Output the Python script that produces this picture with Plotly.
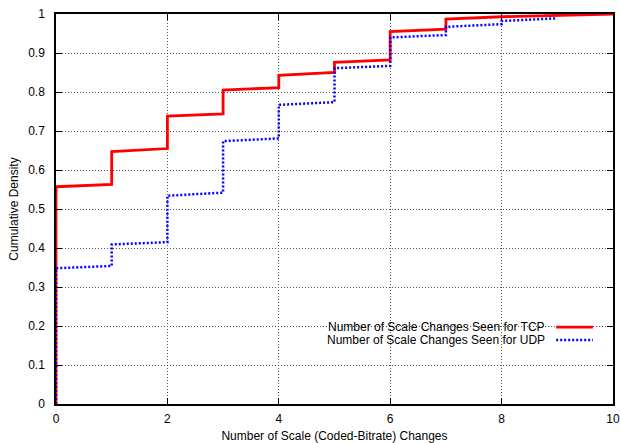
import plotly.graph_objects as go

# Empirical CDF sample points (x = number of scale changes, y = cumulative density)
tcp_x = [0, 0, 1, 1, 2, 2, 3, 3, 4, 4, 5, 5, 6, 6, 7, 7, 8, 9, 10]
tcp_y = [0, 0.557, 0.563, 0.647, 0.655, 0.738, 0.744, 0.805, 0.811, 0.843,
         0.850, 0.876, 0.882, 0.955, 0.961, 0.987, 0.993, 0.997, 1.0]

udp_x = [0, 0, 1, 1, 2, 2, 3, 3, 4, 4, 5, 5, 6, 6, 7, 7, 8, 8, 9]
udp_y = [0, 0.348, 0.354, 0.409, 0.415, 0.534, 0.542, 0.674, 0.681, 0.767,
         0.774, 0.861, 0.867, 0.940, 0.946, 0.967, 0.974, 0.982, 0.989]

tcp_name = "Number of Scale Changes Seen for TCP"
udp_name = "Number of Scale Changes Seen for UDP"

x_ticks = [0, 2, 4, 6, 8, 10]
y_ticks = [0, 0.1, 0.2, 0.3, 0.4, 0.5, 0.6, 0.7, 0.8, 0.9, 1]
y_tick_text = ["0", "0.1", "0.2", "0.3", "0.4", "0.5", "0.6", "0.7", "0.8", "0.9", "1"]

font = "Liberation Sans, Arial, sans-serif"
fsize = 12

fig = go.Figure()
fig.add_trace(go.Scatter(x=tcp_x, y=tcp_y, mode="lines", name=tcp_name,
                         line=dict(color="#ff0000", width=2.8), showlegend=False))
fig.add_trace(go.Scatter(x=udp_x, y=udp_y, mode="lines", name=udp_name,
                         line=dict(color="#0000ff", width=2.5, dash="2px,2px"), showlegend=False))

axis_common = dict(
    showgrid=True, gridcolor="#555555", griddash="1px,2px", gridwidth=1,
    showline=True, linecolor="black", linewidth=1.5, mirror="allticks",
    ticks="inside", ticklen=6, tickcolor="black", tickwidth=1,
    zeroline=False, automargin=False,
    tickfont=dict(family=font, size=fsize, color="black"),
)

fig.update_xaxes(range=[0, 10], tickvals=x_ticks, ticktext=[str(v) for v in x_ticks],
                 ticklabelstandoff=3,
                 title=dict(text="Number of Scale (Coded-Bitrate) Changes",
                            font=dict(family=font, size=fsize, color="black"), standoff=7),
                 **axis_common)
fig.update_yaxes(range=[0, 1], tickvals=y_ticks, ticktext=y_tick_text,
                 ticklabelstandoff=7,
                 title=dict(text="Cumulative Density",
                            font=dict(family=font, size=fsize, color="black"), standoff=7),
                 **axis_common)

# Legend (gnuplot style: right-aligned text, sample line to the right)
shapes = [
    dict(type="rect", xref="paper", yref="paper", x0=0.411, x1=0.973, y0=0.145, y1=0.215,
         fillcolor="white", line=dict(width=0), layer="between"),
    dict(type="line", xref="paper", yref="paper", x0=0.898, x1=0.964, y0=0.197, y1=0.197,
         line=dict(color="#ff0000", width=2.8)),
    dict(type="line", xref="paper", yref="paper", x0=0.898, x1=0.964, y0=0.164, y1=0.164,
         line=dict(color="#0000ff", width=2.5, dash="2px,2px")),
]
annotations = [
    dict(text=tcp_name, xref="paper", yref="paper", x=0.882, y=0.197, xanchor="right",
         yanchor="middle", showarrow=False, font=dict(family=font, size=fsize, color="black")),
    dict(text=udp_name, xref="paper", yref="paper", x=0.882, y=0.164, xanchor="right",
         yanchor="middle", showarrow=False, font=dict(family=font, size=fsize, color="black")),
]

fig.update_layout(
    width=620, height=443,
    margin=dict(l=56, r=7, t=14, b=39),
    paper_bgcolor="white", plot_bgcolor="white",
    shapes=shapes, annotations=annotations,
    showlegend=False,
)

fig.write_html("out.html")
